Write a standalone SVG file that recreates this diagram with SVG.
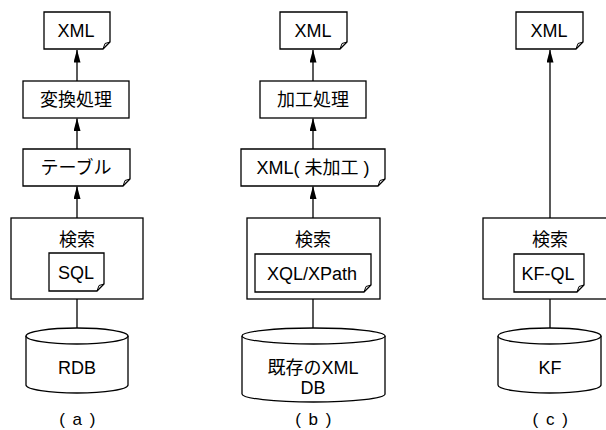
<svg xmlns="http://www.w3.org/2000/svg" width="606" height="430" viewBox="0 0 606 430">
<style>
.s{fill:#fff;stroke:#000;stroke-width:1.3}
.f{fill:none;stroke:#000;stroke-width:1}
.t{font-family:"Liberation Sans","Noto Sans CJK JP",sans-serif;font-size:18px;fill:#000;text-anchor:middle;dominant-baseline:central}
.j{font-family:"Liberation Sans","Noto Sans CJK JP",sans-serif;font-size:18px;fill:#000;text-anchor:middle;dominant-baseline:central}
.l{font-family:"Liberation Sans","Noto Sans CJK JP",sans-serif;font-size:17px;fill:#000;text-anchor:middle;dominant-baseline:central;letter-spacing:1.5px}
.c{stroke:#000;stroke-width:1.3;fill:none}
</style>
<defs>
<marker id="ah" markerWidth="13" markerHeight="7" refX="12.5" refY="3.5" orient="auto" markerUnits="userSpaceOnUse" viewBox="0 0 13 7">
<path d="M0,0 L13,3.5 L0,7 Z" fill="#000"/>
</marker>
</defs>
<g id="connectors">
<line class="c" x1="77" y1="81" x2="77" y2="50" marker-end="url(#ah)"/>
<line class="c" x1="77" y1="149" x2="77" y2="118.5" marker-end="url(#ah)"/>
<line class="c" x1="77" y1="218" x2="77" y2="186.5" marker-end="url(#ah)"/>
<line class="c" x1="77" y1="299" x2="77" y2="328"/>
<line class="c" x1="313" y1="81" x2="313" y2="50" marker-end="url(#ah)"/>
<line class="c" x1="313" y1="149" x2="313" y2="118.5" marker-end="url(#ah)"/>
<line class="c" x1="313" y1="218" x2="313" y2="186.5" marker-end="url(#ah)"/>
<line class="c" x1="313" y1="299" x2="313" y2="328"/>
<line class="c" x1="550" y1="218" x2="550" y2="50" marker-end="url(#ah)"/>
<line class="c" x1="550" y1="299" x2="550" y2="328"/>
</g>
<g id="a-xml">
<path class="s" d="M44,12 H110 V42 L103,49 H44 Z"/>
<path class="f" d="M110,42 L105,43.5 L103,49"/>
<text class="t" x="76" y="31">XML</text>
</g>
<g id="a-transform">
<rect class="s" x="23" y="81" width="106" height="37"/>
<text class="j" x="76" y="100">変換処理</text>
</g>
<g id="a-table">
<path class="s" d="M23,149 H130 V179 L123,186 H23 Z"/>
<path class="f" d="M130,179 L125,180.5 L123,186"/>
<text class="j" x="76" y="168">テーブル</text>
</g>
<g id="a-search">
<rect class="s" x="11" y="218" width="132" height="81"/>
<text class="j" x="77" y="240">検索</text>
</g>
<g id="a-sql">
<path class="s" d="M49,253 H104 V284 L97,291 H49 Z"/>
<path class="f" d="M104,284 L99,285.5 L97,291"/>
<text class="t" x="76" y="273">SQL</text>
</g>
<g id="a-db">
<path class="s" d="M26,336 V385 A51,8 0 0 0 128,385 V336"/>
<ellipse class="s" cx="77" cy="336" rx="51" ry="8"/>
<text class="t" x="77" y="368">RDB</text>
</g>
<text class="l" x="78" y="419">( a )</text>
<g id="b-xml">
<path class="s" d="M280,12 H347 V42 L340,49 H280 Z"/>
<path class="f" d="M347,42 L342,43.5 L340,49"/>
<text class="t" x="313" y="31">XML</text>
</g>
<g id="b-process">
<rect class="s" x="260" y="81" width="106" height="37"/>
<text class="j" x="313" y="100">加工処理</text>
</g>
<g id="b-raw">
<path class="s" d="M241,149 H385 V179 L378,186 H241 Z"/>
<path class="f" d="M385,179 L380,180.5 L378,186"/>
<text class="j" x="313" y="168">XML( 未加工 )</text>
</g>
<g id="b-search">
<rect class="s" x="247" y="218" width="133" height="81"/>
<text class="j" x="313" y="240">検索</text>
</g>
<g id="b-xpath">
<path class="s" d="M255,254 H371 V285 L364,292 H255 Z"/>
<path class="f" d="M371,285 L366,286.5 L364,292"/>
<text class="t" x="312" y="274">XQL/XPath</text>
</g>
<g id="b-db">
<path class="s" d="M242,336 V394 A71.5,8 0 0 0 385,394 V336"/>
<ellipse class="s" cx="313.5" cy="336" rx="71.5" ry="8"/>
<text class="j" x="313" y="368">既存のXML</text>
<text class="t" x="313" y="388">DB</text>
</g>
<text class="l" x="314" y="419">( b )</text>
<g id="c-xml">
<path class="s" d="M516,12 H583 V42 L576,49 H516 Z"/>
<path class="f" d="M583,42 L578,43.5 L576,49"/>
<text class="t" x="549" y="31">XML</text>
</g>
<g id="c-search">
<rect class="s" x="483" y="218" width="134" height="81"/>
<text class="j" x="550" y="240">検索</text>
</g>
<g id="c-kfql">
<path class="s" d="M514,254 H584 V285 L577,292 H514 Z"/>
<path class="f" d="M584,285 L579,286.5 L577,292"/>
<text class="t" x="548" y="274">KF-QL</text>
</g>
<g id="c-db">
<path class="s" d="M498,336 V385 A51.5,8 0 0 0 601,385 V336"/>
<ellipse class="s" cx="549.5" cy="336" rx="51.5" ry="8"/>
<text class="t" x="550" y="368">KF</text>
</g>
<text class="l" x="551" y="419">( c )</text>
</svg>
